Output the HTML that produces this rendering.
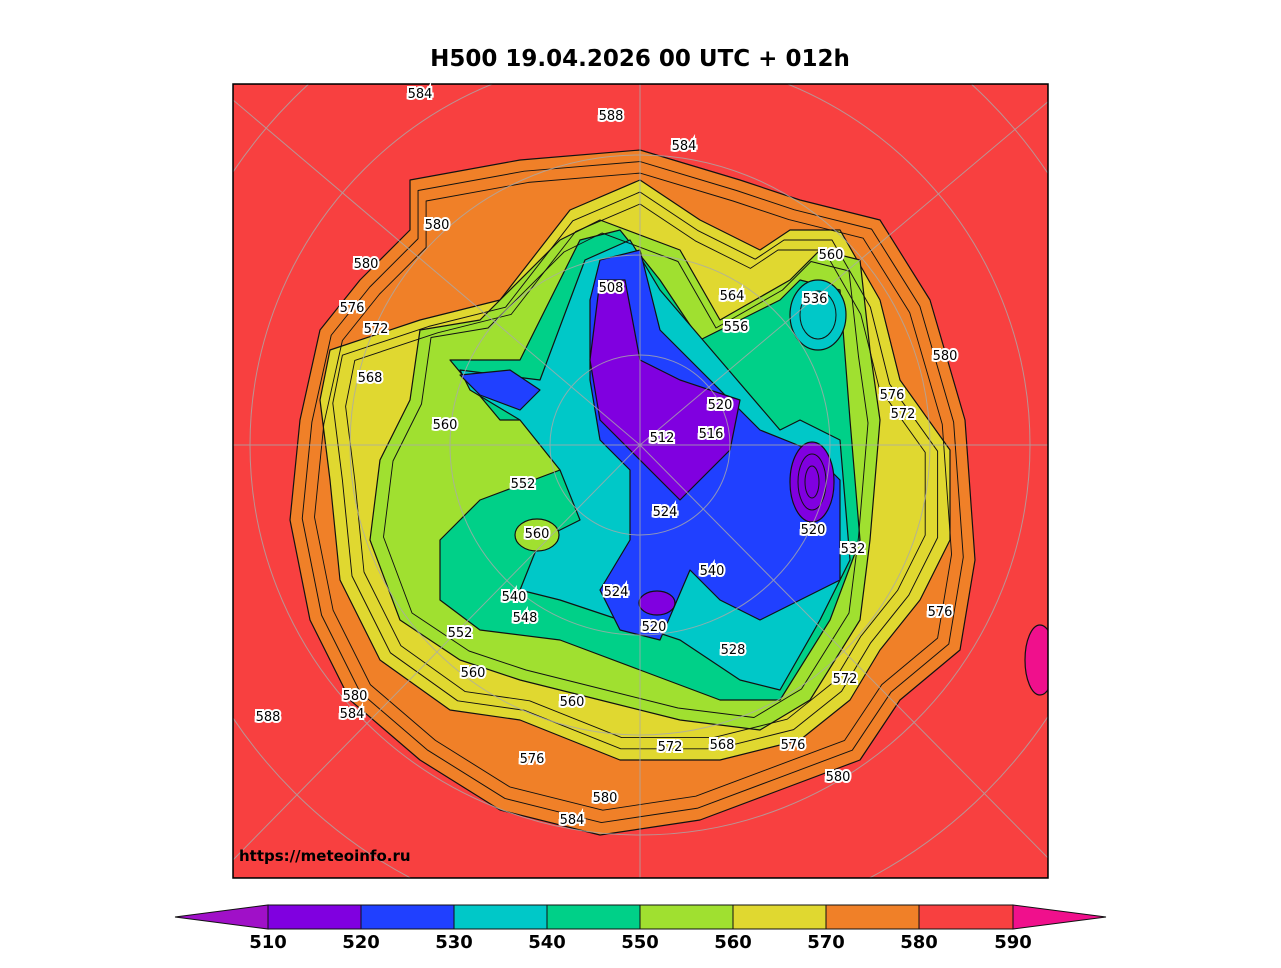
<!DOCTYPE html>
<html><head><meta charset="utf-8"><style>
body{margin:0;background:#fff;width:1281px;height:963px;overflow:hidden}
svg text{font-family:"DejaVu Sans","Liberation Sans",sans-serif}
</style></head><body>
<svg width="1281" height="963" viewBox="0 0 1281 963">
<text x="640" y="66" text-anchor="middle" font-size="23" font-weight="bold">H500  19.04.2026 00 UTC + 012h</text>
<defs><clipPath id="c"><rect x="233" y="84" width="815" height="794"/></clipPath>
<polygon id="po" points="410,180 520,160 640,150 740,180 800,200 880,220 930,300 965,420 975,560 960,650 900,700 860,760 780,790 700,820 600,835 500,810 420,760 350,700 310,620 290,520 300,420 320,330 360,280 410,230"/>
<polygon id="py" points="330,350 420,320 500,300 570,210 640,180 700,220 760,250 790,230 840,230 880,300 900,380 950,450 950,540 920,600 880,650 850,700 800,740 720,760 620,760 520,720 450,710 380,660 340,580 330,480 320,400"/>
<polygon id="pl" points="420,330 480,320 560,240 600,220 680,250 720,320 790,280 820,250 860,260 870,350 880,420 870,540 860,620 810,700 760,730 680,720 600,700 520,680 460,660 400,620 370,540 380,460 410,400"/>
</defs>
<g clip-path="url(#c)" stroke="#111" stroke-width="1.2" stroke-linejoin="round">
<rect x="233" y="84" width="815" height="794" fill="#f84040"/>
<ellipse cx="1040" cy="660" rx="15" ry="35" fill="#f0108c"/>
<use href="#po" fill="#f08028"/>
<use href="#py" fill="#e0d830"/>
<use href="#pl" fill="#a0e030"/>
<polygon fill="#00d088" points="450,360 520,360 580,240 620,230 660,280 700,340 780,300 800,280 840,290 850,420 860,540 830,620 780,700 720,700 640,670 560,640 480,630 440,600 440,540 480,500 560,470 560,420 500,420"/>
<polygon fill="#00c8c8" points="460,370 540,380 585,260 630,240 660,290 720,360 780,430 800,420 840,440 850,560 820,620 780,690 740,680 680,640 620,620 560,600 520,590 540,540 580,520 560,470 520,420 470,390"/>
<ellipse cx="818" cy="315" rx="28" ry="35" fill="#00c8c8"/>
<polygon fill="#2040ff" points="600,260 640,250 660,330 700,370 760,430 810,450 840,480 840,580 800,600 760,620 720,600 690,570 660,640 620,630 600,590 630,540 630,470 600,440 590,380 590,300"/>
<polygon fill="#2040ff" points="460,375 510,370 540,390 520,410 480,395"/>
<polygon fill="#8000e0" points="600,280 625,280 640,360 680,380 740,400 730,450 700,480 680,500 650,470 620,440 600,420 590,360"/>
<ellipse cx="812" cy="482" rx="22" ry="40" fill="#8000e0"/>
<ellipse cx="657" cy="603" rx="18" ry="12" fill="#8000e0"/>
<ellipse cx="537" cy="535" rx="22" ry="16" fill="#a0e030"/>
<g fill="none" stroke="#111" stroke-width="1">
<use href="#po" transform="translate(640 480) scale(0.965) translate(-640 -480)"/>
<use href="#po" transform="translate(640 480) scale(0.93) translate(-640 -480)"/>
<use href="#py" transform="translate(640 480) scale(0.96) translate(-640 -480)"/>
<use href="#py" transform="translate(640 480) scale(0.92) translate(-640 -480)"/>
<use href="#pl" transform="translate(640 480) scale(0.95) translate(-640 -480)"/>
<ellipse cx="812" cy="482" rx="14" ry="28"/><ellipse cx="812" cy="482" rx="7" ry="16"/>
<ellipse cx="818" cy="315" rx="18" ry="24"/>
</g>
<g fill="none" stroke="#aaa" stroke-width="1" opacity="0.8">
<circle cx="640" cy="445" r="90"/><circle cx="640" cy="445" r="190"/><circle cx="640" cy="445" r="290"/><circle cx="640" cy="445" r="390"/><circle cx="640" cy="445" r="490"/>
<line x1="640" y1="445" x2="640" y2="80"/><line x1="640" y1="445" x2="1050" y2="445"/><line x1="640" y1="445" x2="233" y2="445"/><line x1="640" y1="445" x2="640" y2="880"/>
<line x1="640" y1="445" x2="1050" y2="100"/><line x1="640" y1="445" x2="233" y2="100"/><line x1="640" y1="445" x2="1050" y2="860"/><line x1="640" y1="445" x2="233" y2="860"/>
</g>
</g>
<rect x="233" y="84" width="815" height="794" fill="none" stroke="#000" stroke-width="1.5"/>
<g font-size="13" text-anchor="middle" stroke="#fff" stroke-width="4" paint-order="stroke">
<text x="420" y="98">584</text><text x="611" y="120">588</text><text x="684" y="150">584</text><text x="437" y="229">580</text><text x="366" y="268">580</text><text x="352" y="312">576</text><text x="376" y="333">572</text><text x="370" y="382">568</text><text x="445" y="429">560</text><text x="831" y="259">560</text><text x="815" y="303">536</text><text x="945" y="360">580</text><text x="892" y="399">576</text><text x="903" y="418">572</text><text x="732" y="300">564</text><text x="736" y="331">556</text><text x="611" y="292">508</text><text x="720" y="409">520</text><text x="711" y="438">516</text><text x="662" y="442">512</text><text x="523" y="488">552</text><text x="665" y="516">524</text><text x="537" y="538">560</text><text x="853" y="553">532</text><text x="813" y="534">520</text><text x="712" y="575">540</text><text x="616" y="596">524</text><text x="514" y="601">540</text><text x="525" y="622">548</text><text x="654" y="631">520</text><text x="733" y="654">528</text><text x="940" y="616">576</text><text x="460" y="637">552</text><text x="473" y="677">560</text><text x="572" y="706">560</text><text x="355" y="700">580</text><text x="268" y="721">588</text><text x="352" y="718">584</text><text x="670" y="751">572</text><text x="722" y="749">568</text><text x="793" y="749">576</text><text x="532" y="763">576</text><text x="838" y="781">580</text><text x="605" y="802">580</text><text x="572" y="824">584</text><text x="845" y="683">572</text>
</g>
<text x="239" y="861" font-size="15" font-weight="bold">https://meteoinfo.ru</text>
<g stroke="#111" stroke-width="1">
<polygon points="175,917 268,905 268,929" fill="#a010c8"/>
<rect x="268" y="905" width="93" height="24" fill="#8000e0"/>
<rect x="361" y="905" width="93" height="24" fill="#2040ff"/>
<rect x="454" y="905" width="93" height="24" fill="#00c8c8"/>
<rect x="547" y="905" width="93" height="24" fill="#00d088"/>
<rect x="640" y="905" width="93" height="24" fill="#a0e030"/>
<rect x="733" y="905" width="93" height="24" fill="#e0d830"/>
<rect x="826" y="905" width="93" height="24" fill="#f08028"/>
<rect x="919" y="905" width="94" height="24" fill="#f84040"/>
<polygon points="1013,905 1106,917 1013,929" fill="#f0108c"/>
</g>
<g font-size="18" font-weight="bold" text-anchor="middle">
<text x="268" y="948">510</text><text x="361" y="948">520</text><text x="454" y="948">530</text><text x="547" y="948">540</text><text x="640" y="948">550</text><text x="733" y="948">560</text><text x="826" y="948">570</text><text x="919" y="948">580</text><text x="1013" y="948">590</text>
</g>
</svg>
</body></html>
